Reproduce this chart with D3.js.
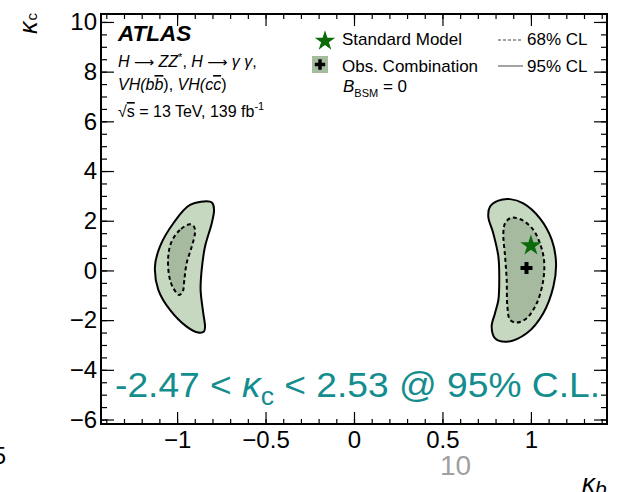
<!DOCTYPE html>
<html>
<head>
<meta charset="utf-8">
<script src="https://cdn.jsdelivr.net/npm/d3@7"></script>
<style>
  body { margin: 0; background: #fff; }
  text { font-family: "Liberation Sans", Arial, sans-serif; }
</style>
</head>
<body>
<div id="chart"></div>
<script>
const width = 623;
const height = 492;

const margin = { top: 14, left: 101, right: 16, bottom: 68 };

// axis ranges and tick labels
const xDomain = [-1.43, 1.43];
const yDomain = [-6.18, 10.32];
const xTicks = [-1, -0.5, 0, 0.5, 1];
const xTickLabels = ["\u22121", "\u22120.5", "0", "0.5", "1"];
const yTicks = [-6, -4, -2, 0, 2, 4, 6, 8, 10];
const yTickLabels = ["\u22126", "\u22124", "\u22122", "0", "2", "4", "6", "8", "10"];
const xMinor = d3.range(-14, 15).map(d => d / 10);
const yMinor = d3.range(-12, 21).map(d => d / 2);

// 95% CL contours (kappa_b, kappa_c)
const outerLeft = [
    [-0.814, 2.77], [-0.927, 2.64], [-1.021, 1.90], [-1.097, 0.96], [-1.125, 0.15],
    [-1.106, -0.78], [-1.040, -1.59], [-0.946, -2.26], [-0.880, -2.50], [-0.848, -2.46],
    [-0.842, -2.26], [-0.852, -1.72], [-0.867, -0.78], [-0.861, 0.02], [-0.842, 0.96],
    [-0.804, 1.90], [-0.791, 2.43], [-0.799, 2.70]
];
const outerRight = [
    [0.816, 2.81], [0.769, 2.57], [0.759, 2.16], [0.787, 1.50], [0.816, 0.56],
    [0.821, -0.38], [0.816, -1.19], [0.797, -1.72], [0.778, -2.26], [0.797, -2.73],
    [0.863, -2.87], [0.976, -2.53], [1.070, -1.72], [1.127, -0.65], [1.142, 0.29],
    [1.118, 1.23], [1.051, 2.10], [0.957, 2.70], [0.882, 2.87]
];
// 68% CL contours
const innerLeft = [
    [-0.927, 1.86], [-0.984, 1.63], [-1.031, 1.16], [-1.050, 0.56], [-1.044, -0.25],
    [-1.021, -0.72], [-0.988, -0.99], [-0.968, -0.85], [-0.959, -0.38], [-0.946, 0.29],
    [-0.917, 0.96], [-0.899, 1.50], [-0.904, 1.76]
];
const innerRight = [
    [0.882, 2.10], [0.854, 1.90], [0.844, 1.50], [0.854, 0.56], [0.863, -0.38],
    [0.867, -1.46], [0.882, -1.99], [0.920, -2.10], [0.976, -1.92], [1.033, -1.32],
    [1.070, -0.38], [1.074, 0.42], [1.051, 1.09], [1.014, 1.63], [0.957, 2.00],
    [0.910, 2.12]
];

const smPoint = [1, 1];
const bestFit = [0.975, 0.1];

const fill95 = "#c7d8c0";
const fill68 = "#a6ba9f";
const teal = "#138d8d";

const xScale = d3.scaleLinear()
    .domain(xDomain)
    .range([margin.left, width - margin.right]);

const yScale = d3.scaleLinear()
    .domain(yDomain)
    .range([height - margin.bottom, margin.top]);

const svg = d3.select("#chart").append("svg")
    .attr("width", width)
    .attr("height", height);

const contour = d3.line()
    .x(d => xScale(d[0]))
    .y(d => yScale(d[1]))
    .curve(d3.curveCatmullRomClosed.alpha(0.5));

// fills
[outerLeft, outerRight].forEach(c => {
    svg.append("path").attr("d", contour(c)).attr("fill", fill95).attr("stroke", "none");
});
[innerLeft, innerRight].forEach(c => {
    svg.append("path").attr("d", contour(c)).attr("fill", fill68).attr("stroke", "none");
});
// outlines
[outerLeft, outerRight].forEach(c => {
    svg.append("path").attr("d", contour(c)).attr("fill", "none")
        .attr("stroke", "#000").attr("stroke-width", 2);
});
[innerLeft, innerRight].forEach(c => {
    svg.append("path").attr("d", contour(c)).attr("fill", "none")
        .attr("stroke", "#000").attr("stroke-width", 2).attr("stroke-dasharray", "4,3");
});

// SM star and best fit
svg.append("path")
    .attr("d", d3.symbol(d3.symbolStar, 140)())
    .attr("transform", `translate(${xScale(smPoint[0])},${yScale(smPoint[1])})`)
    .attr("fill", "#0b6b0b");

svg.append("path")
    .attr("d", d3.symbol(d3.symbolCross, 80)())
    .attr("transform", `translate(${xScale(bestFit[0])},${yScale(bestFit[1])})`)
    .attr("fill", "#000");

// axes, ticks on all four sides pointing inwards
const x0 = height - margin.bottom;
const y0 = margin.left;

function styleAxis(g) {
    g.select(".domain").remove();
    g.selectAll("line").attr("stroke", "#000").attr("stroke-width", 1.2);
    g.selectAll("text").attr("font-size", 24).attr("fill", "#000")
        .attr("font-family", "Liberation Sans, Arial, sans-serif");
}

svg.append("g").attr("transform", `translate(0,${x0})`)
    .call(d3.axisBottom(xScale).tickValues(xMinor).tickSizeInner(-5).tickSizeOuter(0).tickFormat(""))
    .call(styleAxis);
svg.append("g").attr("transform", `translate(0,${x0})`)
    .call(d3.axisBottom(xScale).tickValues(xTicks).tickSizeInner(-12).tickSizeOuter(0)
        .tickPadding(7).tickFormat((d, i) => xTickLabels[i]))
    .call(styleAxis);
svg.append("g").attr("transform", `translate(0,${margin.top})`)
    .call(d3.axisTop(xScale).tickValues(xMinor).tickSizeInner(-5).tickSizeOuter(0).tickFormat(""))
    .call(styleAxis);
svg.append("g").attr("transform", `translate(0,${margin.top})`)
    .call(d3.axisTop(xScale).tickValues(xTicks).tickSizeInner(-12).tickSizeOuter(0).tickFormat(""))
    .call(styleAxis);

svg.append("g").attr("transform", `translate(${y0},0)`)
    .call(d3.axisLeft(yScale).tickValues(yMinor).tickSizeInner(-6).tickSizeOuter(0).tickFormat(""))
    .call(styleAxis);
svg.append("g").attr("transform", `translate(${y0},0)`)
    .call(d3.axisLeft(yScale).tickValues(yTicks).tickSizeInner(-13).tickSizeOuter(0)
        .tickPadding(4).tickFormat((d, i) => yTickLabels[i]))
    .call(styleAxis);
svg.append("g").attr("transform", `translate(${width - margin.right},0)`)
    .call(d3.axisRight(yScale).tickValues(yMinor).tickSizeInner(-6).tickSizeOuter(0).tickFormat(""))
    .call(styleAxis);
svg.append("g").attr("transform", `translate(${width - margin.right},0)`)
    .call(d3.axisRight(yScale).tickValues(yTicks).tickSizeInner(-13).tickSizeOuter(0).tickFormat(""))
    .call(styleAxis);

// frame
svg.append("rect")
    .attr("x", margin.left)
    .attr("y", margin.top)
    .attr("width", width - margin.left - margin.right)
    .attr("height", height - margin.top - margin.bottom)
    .attr("fill", "none")
    .attr("stroke", "#000")
    .attr("stroke-width", 2);

// axis titles
const yTitle = svg.append("text")
    .attr("transform", "translate(37,34) rotate(-90)")
    .attr("font-size", 25)
    .attr("font-family", "Liberation Serif, serif")
    .attr("font-style", "italic");
yTitle.append("tspan").text("\u03ba");
yTitle.append("tspan").attr("font-size", 15).attr("dx", 1)
    .attr("font-family", "Liberation Sans, Arial, sans-serif")
    .attr("font-style", "normal").text("c");

const xTitle = svg.append("text")
    .attr("x", 582)
    .attr("y", 492)
    .attr("font-size", 26)
    .attr("font-family", "Liberation Serif, serif")
    .attr("font-style", "italic");
xTitle.append("tspan").text("\u03ba");
xTitle.append("tspan").attr("font-size", 21).attr("dy", 4)
    .attr("font-family", "Liberation Sans, Arial, sans-serif").text("b");

// ATLAS label block
svg.append("text")
    .attr("x", 118).attr("y", 41)
    .attr("font-size", 22.5).attr("font-weight", "bold").attr("font-style", "italic")
    .text("ATLAS");

const arrow = " \u27f6 ";
const l1 = svg.append("text").attr("x", 118).attr("y", 67).attr("font-size", 16);
l1.append("tspan").attr("font-style", "italic").text("H");
l1.append("tspan").attr("font-family", "DejaVu Sans, sans-serif").attr("font-size", 14).text(arrow);
l1.append("tspan").attr("font-style", "italic").text("ZZ");
l1.append("tspan").attr("font-size", 11).attr("dy", -6).text("*");
l1.append("tspan").attr("dy", 6).text(", ");
l1.append("tspan").attr("font-style", "italic").text("H");
l1.append("tspan").attr("font-family", "DejaVu Sans, sans-serif").attr("font-size", 14).text(arrow);
l1.append("tspan").attr("font-style", "italic").text("\u03b3 \u03b3");
l1.append("tspan").text(",");

const l2 = svg.append("text").attr("x", 118).attr("y", 90).attr("font-size", 16).attr("font-style", "italic");
l2.append("tspan").text("VH(b");
l2.append("tspan").style("text-decoration", "overline").text("b");
l2.append("tspan").attr("font-style", "normal").text("), ");
l2.append("tspan").text("VH(c");
l2.append("tspan").style("text-decoration", "overline").text("c");
l2.append("tspan").attr("font-style", "normal").text(")");

const l3 = svg.append("text").attr("x", 118).attr("y", 117).attr("font-size", 16);
l3.append("tspan").text("\u221a");
l3.append("tspan").style("text-decoration", "overline").text("s");
l3.append("tspan").text(" = 13 TeV, 139 fb");
l3.append("tspan").attr("font-size", 11).attr("dy", -7).text("-1");

// legend
svg.append("path")
    .attr("d", d3.symbol(d3.symbolStar, 130)())
    .attr("transform", "translate(325,41)")
    .attr("fill", "#0b6b0b");
svg.append("text").attr("x", 342).attr("y", 45).attr("font-size", 17).text("Standard Model");

svg.append("rect")
    .attr("x", 312).attr("y", 56).attr("width", 16).attr("height", 17)
    .attr("fill", fill68);
svg.append("path")
    .attr("d", d3.symbol(d3.symbolCross, 60)())
    .attr("transform", "translate(320,64.5)")
    .attr("fill", "#000");
svg.append("text").attr("x", 342).attr("y", 72).attr("font-size", 17).text("Obs. Combination");

const bsm = svg.append("text").attr("x", 343).attr("y", 92).attr("font-size", 17);
bsm.append("tspan").attr("font-style", "italic").text("B");
bsm.append("tspan").attr("font-size", 11).attr("dy", 5).text("BSM");
bsm.append("tspan").attr("dy", -5).text(" = 0");

svg.append("line")
    .attr("x1", 498).attr("x2", 523).attr("y1", 40).attr("y2", 40)
    .attr("stroke", "#444").attr("stroke-width", 1).attr("stroke-dasharray", "3,2");
svg.append("text").attr("x", 527).attr("y", 45).attr("font-size", 17).text("68% CL");
svg.append("line")
    .attr("x1", 498).attr("x2", 523).attr("y1", 66).attr("y2", 66)
    .attr("stroke", "#666").attr("stroke-width", 1.2);
svg.append("text").attr("x", 527).attr("y", 72).attr("font-size", 17).text("95% CL");

// teal annotation
const note = svg.append("text")
    .attr("x", 115).attr("y", 397)
    .attr("font-size", 35)
    .attr("font-family", "Open Sans, sans-serif")
    .attr("fill", teal)
    .attr("textLength", 485)
    .attr("lengthAdjust", "spacingAndGlyphs");
note.append("tspan").text("-2.47 < ");
note.append("tspan").attr("font-style", "italic").text("\u03ba");
note.append("tspan").attr("font-size", 25).attr("dy", 8).text("c");
note.append("tspan").attr("dy", -8).text(" < 2.53 @ 95% C.L.");

// slide remnants
svg.append("text")
    .attr("x", 440).attr("y", 475)
    .attr("font-size", 28)
    .attr("font-family", "Open Sans, sans-serif")
    .attr("fill", "#a0a0a0")
    .text("10");

svg.append("text")
    .attr("x", 6).attr("y", 464)
    .attr("text-anchor", "end")
    .attr("font-size", 24)
    .attr("font-family", "Open Sans, sans-serif")
    .attr("fill", "#000")
    .text("5");
</script>
</body>
</html>
